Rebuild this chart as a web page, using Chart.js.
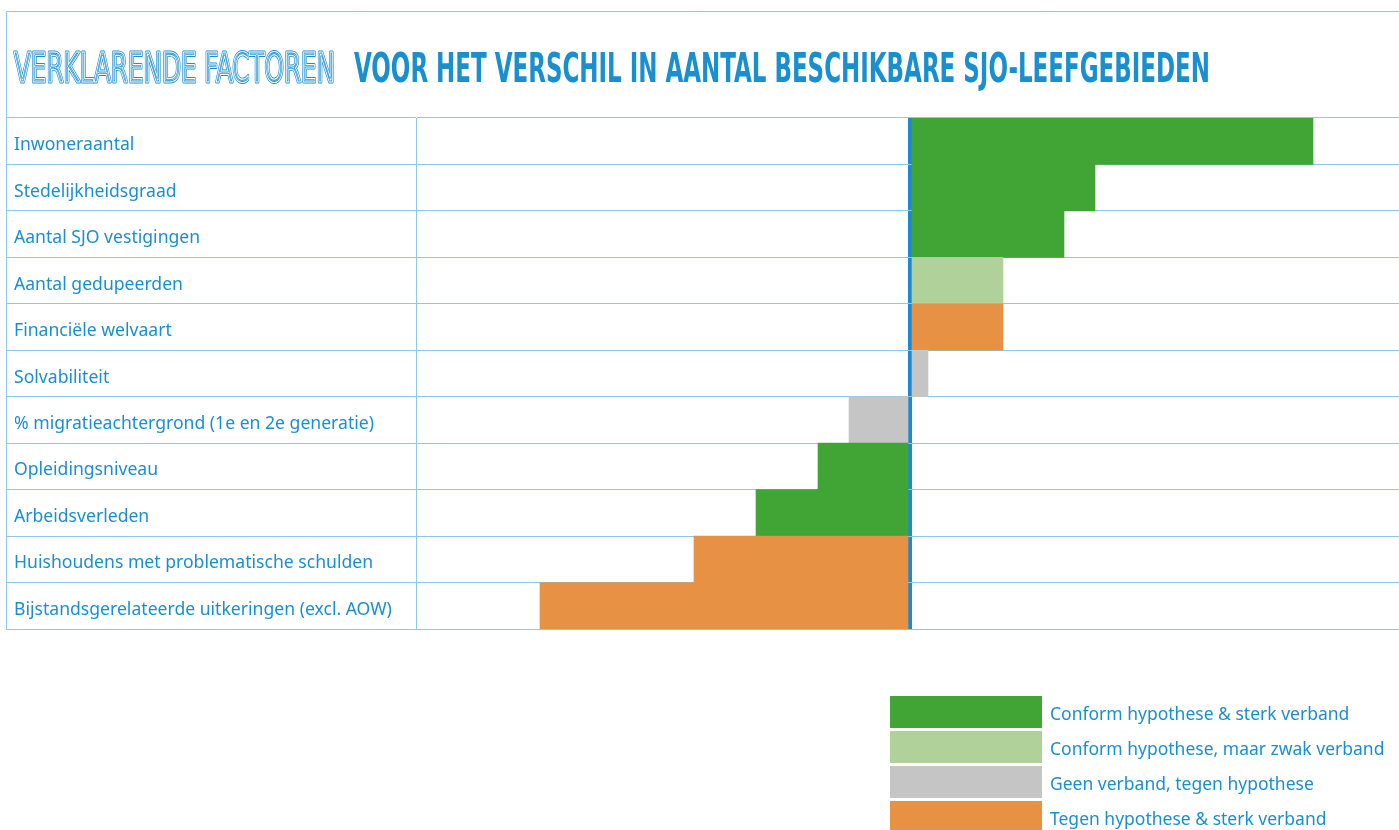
<!DOCTYPE html>
<html>
<head>
<meta charset="utf-8">
<script src="https://cdn.jsdelivr.net/npm/chart.js@4/dist/chart.umd.min.js"></script>
<style>
  html, body { margin: 0; padding: 0; background: #ffffff; }
  canvas { display: block; }
</style>
</head>
<body>
<canvas id="c" width="1399" height="830"></canvas>
<script>
// ---- Data ----
const categories = [
  "Inwoneraantal",
  "Stedelijkheidsgraad",
  "Aantal SJO vestigingen",
  "Aantal gedupeerden",
  "Financiële welvaart",
  "Solvabiliteit",
  "% migratieachtergrond (1e en 2e generatie)",
  "Opleidingsniveau",
  "Arbeidsverleden",
  "Huishoudens met problematische schulden",
  "Bijstandsgerelateerde uitkeringen (excl. AOW)"
];
const values = [0.403, 0.185, 0.154, 0.093, 0.093, 0.018, -0.061, -0.092, -0.154, -0.216, -0.370];
const classIndex = [0, 0, 0, 1, 3, 2, 2, 0, 0, 3, 3];
const legendLabels = [
  "Conform hypothese & sterk verband",
  "Conform hypothese, maar zwak verband",
  "Geen verband, tegen hypothese",
  "Tegen hypothese & sterk verband"
];
const legendColors = ["#40a535", "#b1d19b", "#c5c5c5", "#e69143"];
const titleLight = "VERKLARENDE FACTOREN";
const titleBold = "VOOR HET VERSCHIL IN AANTAL BESCHIKBARE SJO-LEEFGEBIEDEN";

const BLUE = "#1a8fd0";
const ZERO = "#1a8ad2";
const GRID = "#8cc8ea";

const framePlugin = {
  id: "frame",
  beforeDraw(chart) {
    const ctx = chart.ctx;
    const ca = chart.chartArea;
    ctx.save();
    ctx.strokeStyle = GRID;
    ctx.lineWidth = 1;
    ctx.beginPath();
    ctx.moveTo(6.5, ca.bottom);
    ctx.lineTo(6.5, 11.5);
    ctx.lineTo(chart.width, 11.5);
    ctx.stroke();
    ctx.restore();
  },
  afterDraw(chart) {
    const ctx = chart.ctx;
    ctx.save();
    // Title
    const baseY = 82;
    ctx.textBaseline = "alphabetic";
    ctx.textAlign = "left";
    // light outlined part
    ctx.font = "40px 'DejaVu Sans Condensed'";
    let w1 = ctx.measureText(titleLight).width;
    let s1 = 321 / w1;
    ctx.save();
    ctx.translate(14, baseY);
    ctx.scale(s1, 1);
    ctx.lineJoin = "round";
    ctx.strokeStyle = BLUE;
    ctx.lineWidth = 3;
    ctx.strokeText(titleLight, 0, 0);
    ctx.strokeStyle = "#ffffff";
    ctx.lineWidth = 1.1;
    ctx.strokeText(titleLight, 0, 0);
    ctx.restore();
    // bold part
    ctx.font = "bold 40px 'DejaVu Sans Condensed'";
    let w2 = ctx.measureText(titleBold).width;
    let s2 = 856 / w2;
    ctx.save();
    ctx.translate(354, baseY);
    ctx.scale(s2, 1);
    ctx.fillStyle = BLUE;
    ctx.fillText(titleBold, 0, 0);
    ctx.restore();

    // Legend
    const bx = 890, bw = 152;
    const tops = [696, 731, 766, 801];
    ctx.font = "17.5px 'Noto Sans'";
    ctx.textBaseline = "middle";
    for (let i = 0; i < legendLabels.length; i++) {
      ctx.fillStyle = legendColors[i];
      ctx.fillRect(bx, tops[i], bw, 32);
      ctx.fillStyle = BLUE;
      ctx.fillText(legendLabels[i], 1050, tops[i] + 19);
    }
    ctx.restore();
  }
};

new Chart(document.getElementById("c"), {
  type: "bar",
  data: {
    labels: categories,
    datasets: [{
      data: values,
      backgroundColor: classIndex.map(i => legendColors[i]),
      borderWidth: 0,
      barPercentage: 1,
      categoryPercentage: 1
    }]
  },
  options: {
    indexAxis: "y",
    responsive: false,
    animation: false,
    layout: { padding: { left: 14, right: 0, top: 118, bottom: 201 } },
    plugins: { legend: { display: false }, tooltip: { enabled: false } },
    scales: {
      x: {
        min: -0.494,
        max: 0.489,
        z: 1,
        afterBuildTicks(axis) { axis.ticks = [{ value: 0 }]; },
        ticks: { display: false },
        border: { display: false },
        grid: { color: ZERO, lineWidth: 4, drawTicks: false }
      },
      y: {
        afterFit(scale) { scale.width = 402; },
        border: { display: true, color: GRID, width: 1 },
        grid: { offset: true, color: GRID, lineWidth: 1, drawTicks: true, tickLength: 410 },
        ticks: {
          crossAlign: "far",
          color: BLUE,
          font: { family: "'Noto Sans'", size: 17.6 },
          padding: 0,
          labelOffset: 4
        }
      }
    }
  },
  plugins: [framePlugin]
});
</script>
</body>
</html>
